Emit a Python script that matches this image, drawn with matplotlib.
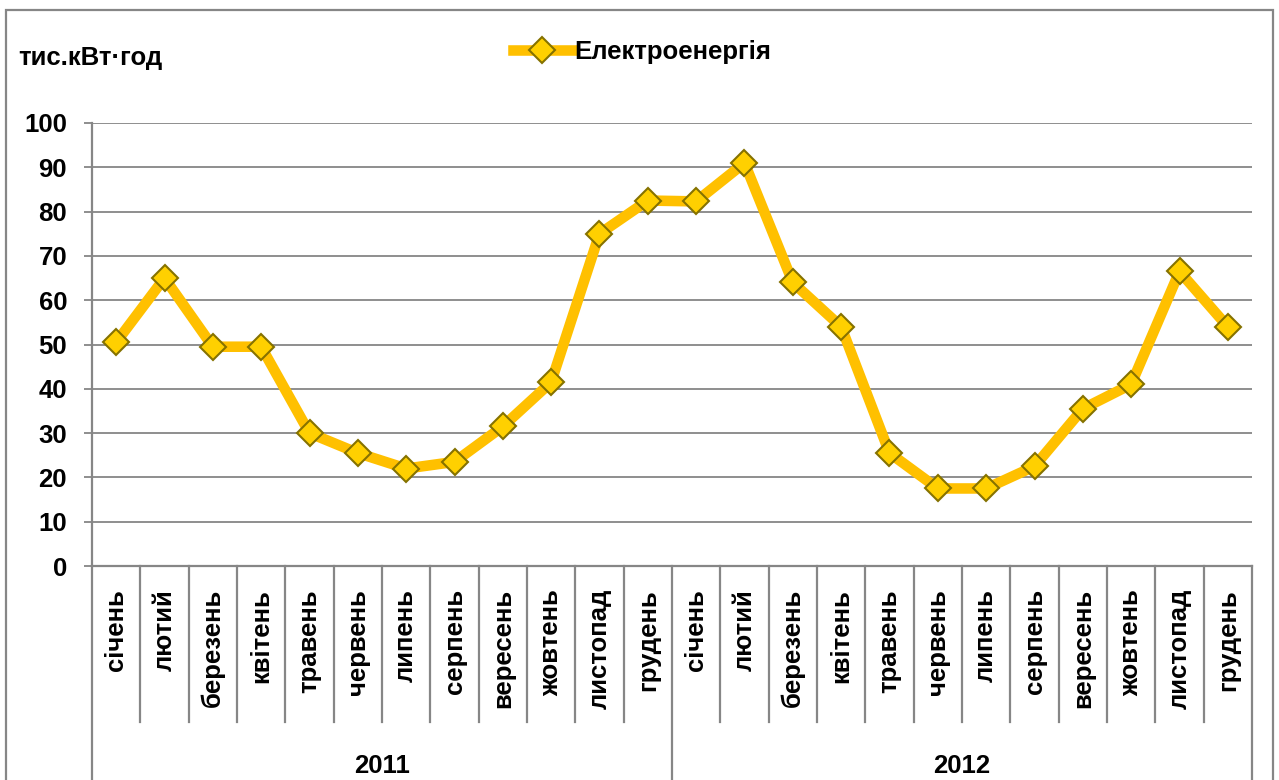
import matplotlib.pyplot as plt
from matplotlib.lines import Line2D

plt.rcParams['font.family'] = ['Liberation Sans', 'DejaVu Sans']
plt.rcParams['font.weight'] = 'bold'

months = ["січень", "лютий", "березень", "квітень", "травень", "червень",
          "липень", "серпень", "вересень", "жовтень", "листопад", "грудень"]
years = ["2011", "2012"]
values_2011 = [50.5, 65, 49.5, 49.5, 30, 25.5, 22, 23.5, 31.5, 41.5, 75, 82.5]
values_2012 = [82.3, 91, 64, 54, 25.5, 17.5, 17.5, 22.5, 35.5, 41, 66.5, 54]
series_name = "Електроенергія"
y_title = "тис.кВт·год"

values = values_2011 + values_2012
labels = months * len(years)
x = list(range(len(values)))

fig = plt.figure(figsize=(12.79, 7.80), dpi=100)
ax = fig.add_axes([92 / 1279, 1 - 566 / 780, (1252 - 92) / 1279, (566 - 123) / 780])

grey = "#868686"
fs = 18.5
ax.plot(x, values, color="#FFC000", lw=7.6, marker="D", ms=13.5,
        markerfacecolor="#FFD000", markeredgecolor="#857200", mew=1.5,
        solid_joinstyle="round", zorder=3, label=series_name)

ax.set_xlim(-0.5, len(values) - 0.5)
ax.set_ylim(0, 100)
ax.set_yticks(range(0, 101, 10))
ax.yaxis.grid(True, color=grey, lw=1.3)
ax.set_axisbelow(True)
ax.tick_params(axis="y", length=6, width=1.3, color=grey, pad=12, labelsize=fs)
for lbl in ax.get_yticklabels():
    lbl.set_fontweight("bold")
ax.set_xticks([])
for side in ["top", "right"]:
    ax.spines[side].set_visible(False)
for side in ["left", "bottom"]:
    ax.spines[side].set_color(grey)
    ax.spines[side].set_linewidth(1.6)

# multi-level category axis
tr = ax.get_xaxis_transform()
px = 1 / 443
for i in range(1, len(values)):
    if i % 12 == 0:
        continue
    ax.plot([i - 0.5, i - 0.5], [0, -156 * px], color=grey, lw=1.6,
            transform=tr, clip_on=False)
for j in range(len(years) + 1):
    xb = j * 12 - 0.5
    ax.plot([xb, xb], [0, -230 * px], color=grey, lw=1.6,
            transform=tr, clip_on=False)
for i, lab in enumerate(labels):
    ax.text(i, -23 * px, lab, rotation=90, ha="center", va="top",
            fontsize=fs, fontweight="bold", transform=tr)
for j, yr in enumerate(years):
    ax.text(j * 12 + 5.5, -200 * px, yr, ha="center", va="center",
            fontsize=fs, fontweight="bold", transform=tr)

fig.text(18 / 1279, 1 - 58 / 780, y_title, ha="left", va="center",
         fontsize=fs, fontweight="bold")

handle = Line2D([], [], color="#FFC000", lw=7.6, marker="D", ms=13.5,
                markerfacecolor="#FFD000", markeredgecolor="#857200", mew=1.5)
fig.legend([handle], [series_name], loc="center", bbox_to_anchor=(0.502, 1 - 52 / 780),
           frameon=False, handlelength=2.3, handletextpad=0.1,
           prop={"size": fs, "weight": "bold"})

# outer chart border
fig.add_artist(plt.Rectangle((6 / 1279, -0.05), (1273 - 6) / 1279, 1.05 - 10 / 780,
                             transform=fig.transFigure, fill=False,
                             edgecolor=grey, lw=1.6))

fig.savefig("out.png", dpi=100)
